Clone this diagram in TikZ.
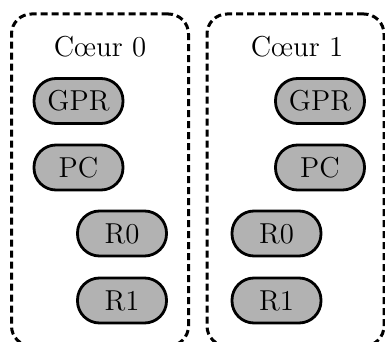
\documentclass[tikz,border=0pt]{standalone}
\usepackage{tikz}

\begin{document}
\begin{tikzpicture}[
x=0.5pt,y=-0.5pt,
font=\Large,
core/.style={rectangle,draw,line width=1.5pt,dash pattern=on 3.5pt off 2pt,rounded corners=10pt,minimum width=88.5pt,minimum height=166pt,inner sep=0pt},
reg/.style={rectangle,draw,fill=black!30,line width=1.4pt,rounded corners=11pt,minimum width=44.5pt,minimum height=22.5pt,inner sep=0pt},
title/.style={anchor=base},
]
\clip (0,0) rectangle (385,342);
\useasboundingbox (0,0) rectangle (385,342);

% Cores
\node [core] (c0) at (100,180) {};
\node [core] (c1) at (295.5,180) {};
\node [title] (t0) at (100,57) {C\oe ur 0};
\node [title] (t1) at (297,57) {C\oe ur 1};

% Registers of core 0
\node [reg] (gpr0) at (78.5,101) {GPR};
\node [reg] (pc0) at (78.5,167.5) {PC};
\node [reg] (r00) at (122,233.5) {R0};
\node [reg] (r10) at (122,300.5) {R1};

% Registers of core 1
\node [reg] (gpr1) at (320,101) {GPR};
\node [reg] (pc1) at (320,167.5) {PC};
\node [reg] (r01) at (276.5,233.5) {R0};
\node [reg] (r11) at (276.5,300.5) {R1};
\end{tikzpicture}
\end{document}
